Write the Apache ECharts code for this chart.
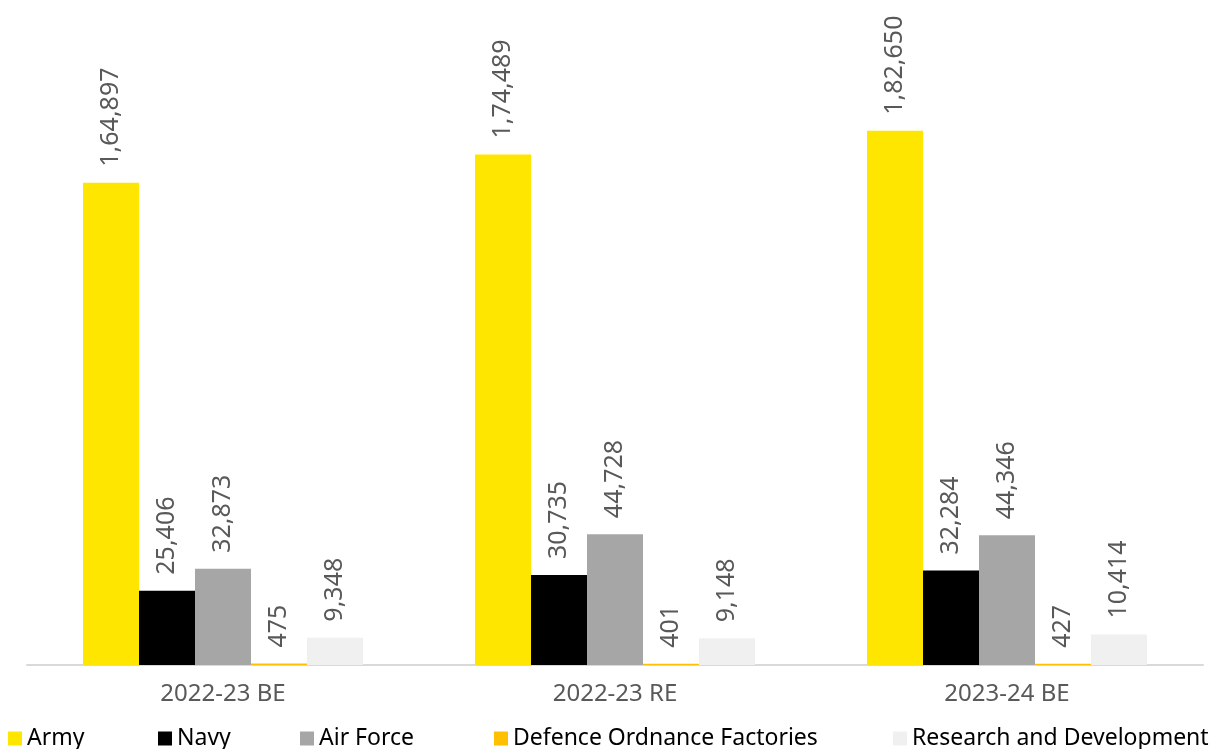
<!DOCTYPE html>
<html>
<head>
<meta charset="utf-8">
<script src="https://cdn.jsdelivr.net/npm/echarts@6/dist/echarts.min.js"></script>
<style>
    html, body { margin: 0; padding: 0; background: #ffffff; }
    #chart { width: 1215px; height: 749px; }
</style>
</head>
<body>
<div id="chart"></div>
<script>
    // 数据
    var categories = ['2022-23 BE', '2022-23 RE', '2023-24 BE'];
    var army = [164897, 174489, 182650];
    var navy = [25406, 30735, 32284];
    var airForce = [32873, 44728, 44346];
    var ordnance = [475, 401, 427];
    var research = [9348, 9148, 10414];

    var FONT = 'Noto Sans';

    // 印度格式 1,64,897
    function inFormat(v){
        var s = String(v);
        if (s.length <= 3) return s;
        var last3 = s.slice(-3);
        var rest = s.slice(0, -3);
        rest = rest.replace(/\B(?=(\d{2})+(?!\d))/g, ',');
        return rest + ',' + last3;
    }

    var label = {
        show: true,
        position: 'top',
        rotate: 90,
        align: 'left',
        verticalAlign: 'middle',
        distance: 16,
        fontFamily: FONT,
        fontSize: 25,
        color: '#595959',
        formatter: function(p){ return inFormat(p.value); }
    };

    function bar(name, data, color){
        return {
            type: 'bar',
            name: name,
            data: data,
            barWidth: 56,
            barGap: '0%',
            itemStyle: { color: color },
            label: label
        };
    }

    function legendAt(name, left){
        return {
            data: [name],
            left: left,
            top: 722,
            itemWidth: 14,
            itemHeight: 14,
            itemGap: 0,
            icon: 'rect',
            textStyle: { fontFamily: FONT, fontSize: 23, color: '#000000', padding: [0, 0, 0, 0] }
        };
    }

    var chart = echarts.init(document.getElementById('chart'));
    chart.setOption({
        animation: false,
        backgroundColor: '#ffffff',
        legend: [
            legendAt('Army', 3),
            legendAt('Navy', 153),
            legendAt('Air Force', 295),
            legendAt('Defence Ordnance Factories', 489),
            legendAt('Research and Development', 888)
        ],
        grid: {
            left: 27,
            right: 12,
            top: 80,
            bottom: 84,
            containLabel: false
        },
        xAxis: {
            type: 'category',
            data: categories,
            axisLine: { lineStyle: { color: '#d9d9d9', width: 2 } },
            axisTick: { show: false },
            axisLabel: {
                fontFamily: FONT,
                fontSize: 24,
                color: '#595959',
                margin: 17
            }
        },
        yAxis: {
            type: 'value',
            min: 0,
            max: 200000,
            show: false,
            splitLine: { show: false }
        },
        series: [
            bar('Army', army, '#FFE600'),
            bar('Navy', navy, '#000000'),
            bar('Air Force', airForce, '#A6A6A6'),
            bar('Defence Ordnance Factories', ordnance, '#FFC000'),
            bar('Research and Development', research, '#F0F0F0')
        ]
    });
</script>
</body>
</html>
